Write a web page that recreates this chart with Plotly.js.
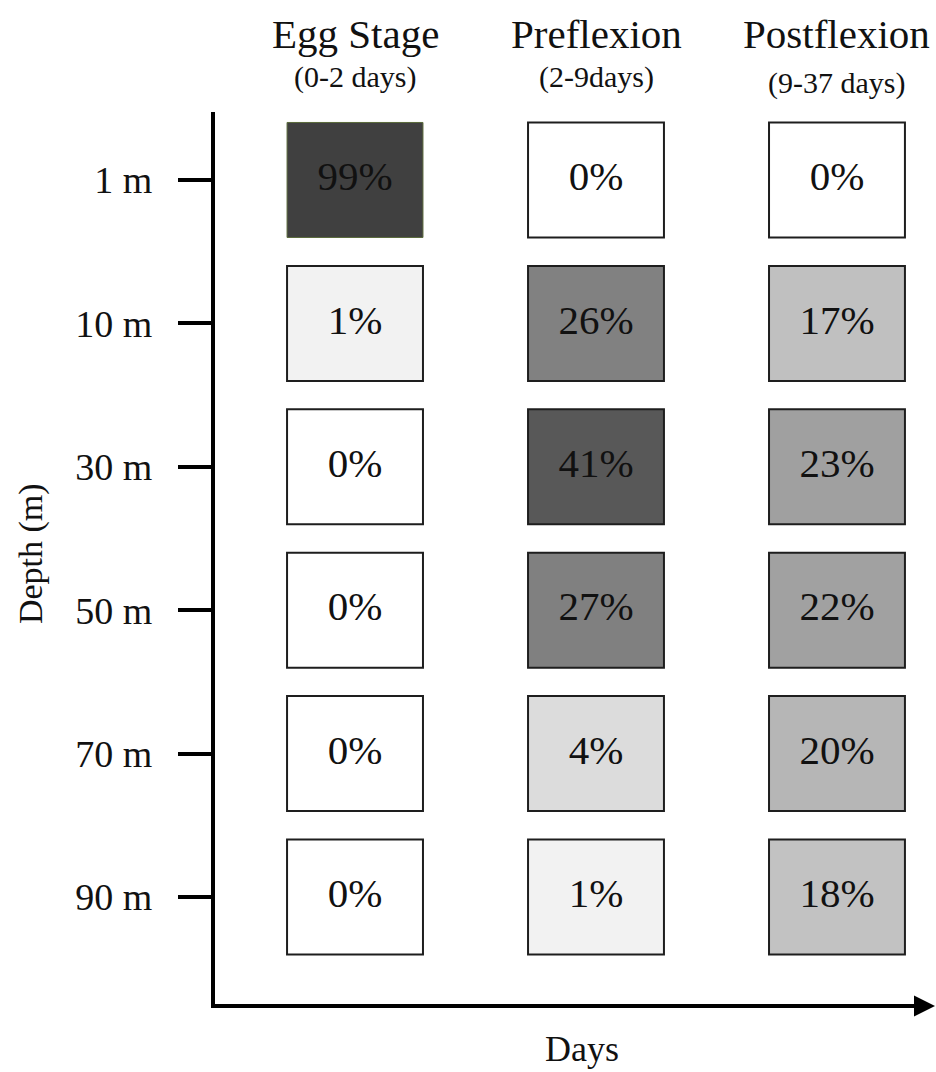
<!DOCTYPE html>
<html>
<head>
<meta charset="utf-8">
<script src="https://cdn.plot.ly/plotly-3.0.1.min.js"></script>
<style>html,body{margin:0;padding:0;background:#fff;}#chart{width:936px;height:1072px;}</style>
</head>
<body>
<div id="chart"></div>
<script>
// ---- data ----
var stages = ["Egg Stage", "Preflexion", "Postflexion"];
var stageDays = ["(0-2 days)", "(2-9days)", "(9-37 days)"];
var depths = ["1 m", "10 m", "30 m", "50 m", "70 m", "90 m"];
var eggStage   = [99, 1, 0, 0, 0, 0];
var preflexion = [0, 26, 41, 27, 4, 1];
var postflexion = [0, 17, 23, 22, 20, 18];

// ---- build cells ----
var series = [eggStage, preflexion, postflexion];
var xs = [], ys = [], vals = [], labels = [], lineCols = [];
series.forEach(function (arr, c) {
  arr.forEach(function (v, r) {
    xs.push(c); ys.push(r); vals.push(v); labels.push(v + "%");
    lineCols.push(v >= 90 ? "#5b6b3c" : "#1e1e1e");
  });
});
var boxH = 0.802, boxW = 0.564;
var vmax = 99;
function s(v){ return v / vmax; }
var grayScale = [
  [0, "#ffffff"], [s(1), "#f2f2f2"], [s(4), "#dcdcdc"], [s(17), "#c0c0c0"],
  [s(18), "#c2c2c2"], [s(20), "#b6b6b6"], [s(22), "#a1a1a1"], [s(23), "#a0a0a0"],
  [s(26), "#818181"], [s(27), "#808080"], [s(41), "#585858"], [1, "#404040"]
];

var serif = "Liberation Serif, Times New Roman, serif";

var boxes = {
  type: "bar",
  x: xs,
  y: ys.map(function(){ return boxH; }),
  base: ys.map(function (r) { return r - boxH / 2; }),
  width: boxW,
  marker: {
    color: vals, colorscale: grayScale, cmin: 0, cmax: vmax, showscale: false,
    line: { color: lineCols, width: vals.map(function(v){return v >= 90 ? 1 : 2;}) }
  },
  hoverinfo: "skip",
  showlegend: false
};
var texts = {
  type: "scatter", mode: "text",
  x: xs, y: ys, text: labels,
  textposition: "middle center",
  textfont: { family: serif, size: 41, color: "#111" },
  hoverinfo: "skip", showlegend: false, cliponaxis: false
};

var xRange = [-0.581, 2.386];
var yRange = [5.746, -0.474];

var annotations = [];
stages.forEach(function (name, c) {
  annotations.push({ xref: "x", yref: "paper", x: c, y: 1.088, text: name, showarrow: false,
    xanchor: "center", yanchor: "middle", font: { family: serif, size: 41, color: "#111" } });
  annotations.push({ xref: "x", yref: "paper", x: c, y: c === 2 ? 1.032 : 1.039, text: stageDays[c], showarrow: false,
    xanchor: "center", yanchor: "middle", font: { family: serif, size: 30, color: "#111" } });
});
annotations.push({ xref: "paper", yref: "paper", x: 0.513, y: -0.05, text: "Days", showarrow: false,
  xanchor: "center", yanchor: "middle", font: { family: serif, size: 36, color: "#111" } });
annotations.push({ xref: "paper", yref: "paper", x: -0.258, y: 0.505, text: "Depth (m)", textangle: -90, showarrow: false,
  xanchor: "center", yanchor: "middle", font: { family: serif, size: 34, color: "#111" } });
// arrow head at end of x axis
annotations.push({ xref: "paper", yref: "paper", x: 1.007, y: 0, yshift: -2, ax: -40, ay: 0,
  text: "", showarrow: true, arrowhead: 2, arrowsize: 1.05, arrowwidth: 4, arrowcolor: "#000" });

var layout = {
  width: 936, height: 1072,
  margin: { l: 215, r: 6, t: 112, b: 68 },
  paper_bgcolor: "#fff", plot_bgcolor: "#fff",
  barmode: "overlay",
  xaxis: { range: xRange, showgrid: false, zeroline: false, showline: true, linewidth: 4, linecolor: "#000",
    showticklabels: false, ticks: "" },
  yaxis: { range: yRange, showgrid: false, zeroline: false, showline: true, linewidth: 4, linecolor: "#000",
    tickvals: depths.map(function(d, i){ return i; }), ticktext: depths,
    ticks: "outside", ticklen: 33, tickwidth: 4, tickcolor: "#000", ticklabelstandoff: 18,
    tickfont: { family: serif, size: 38, color: "#111" } },
  annotations: annotations,
  showlegend: false
};

Plotly.newPlot("chart", [boxes, texts], layout, { displayModeBar: false, staticPlot: true });
</script>
</body>
</html>
